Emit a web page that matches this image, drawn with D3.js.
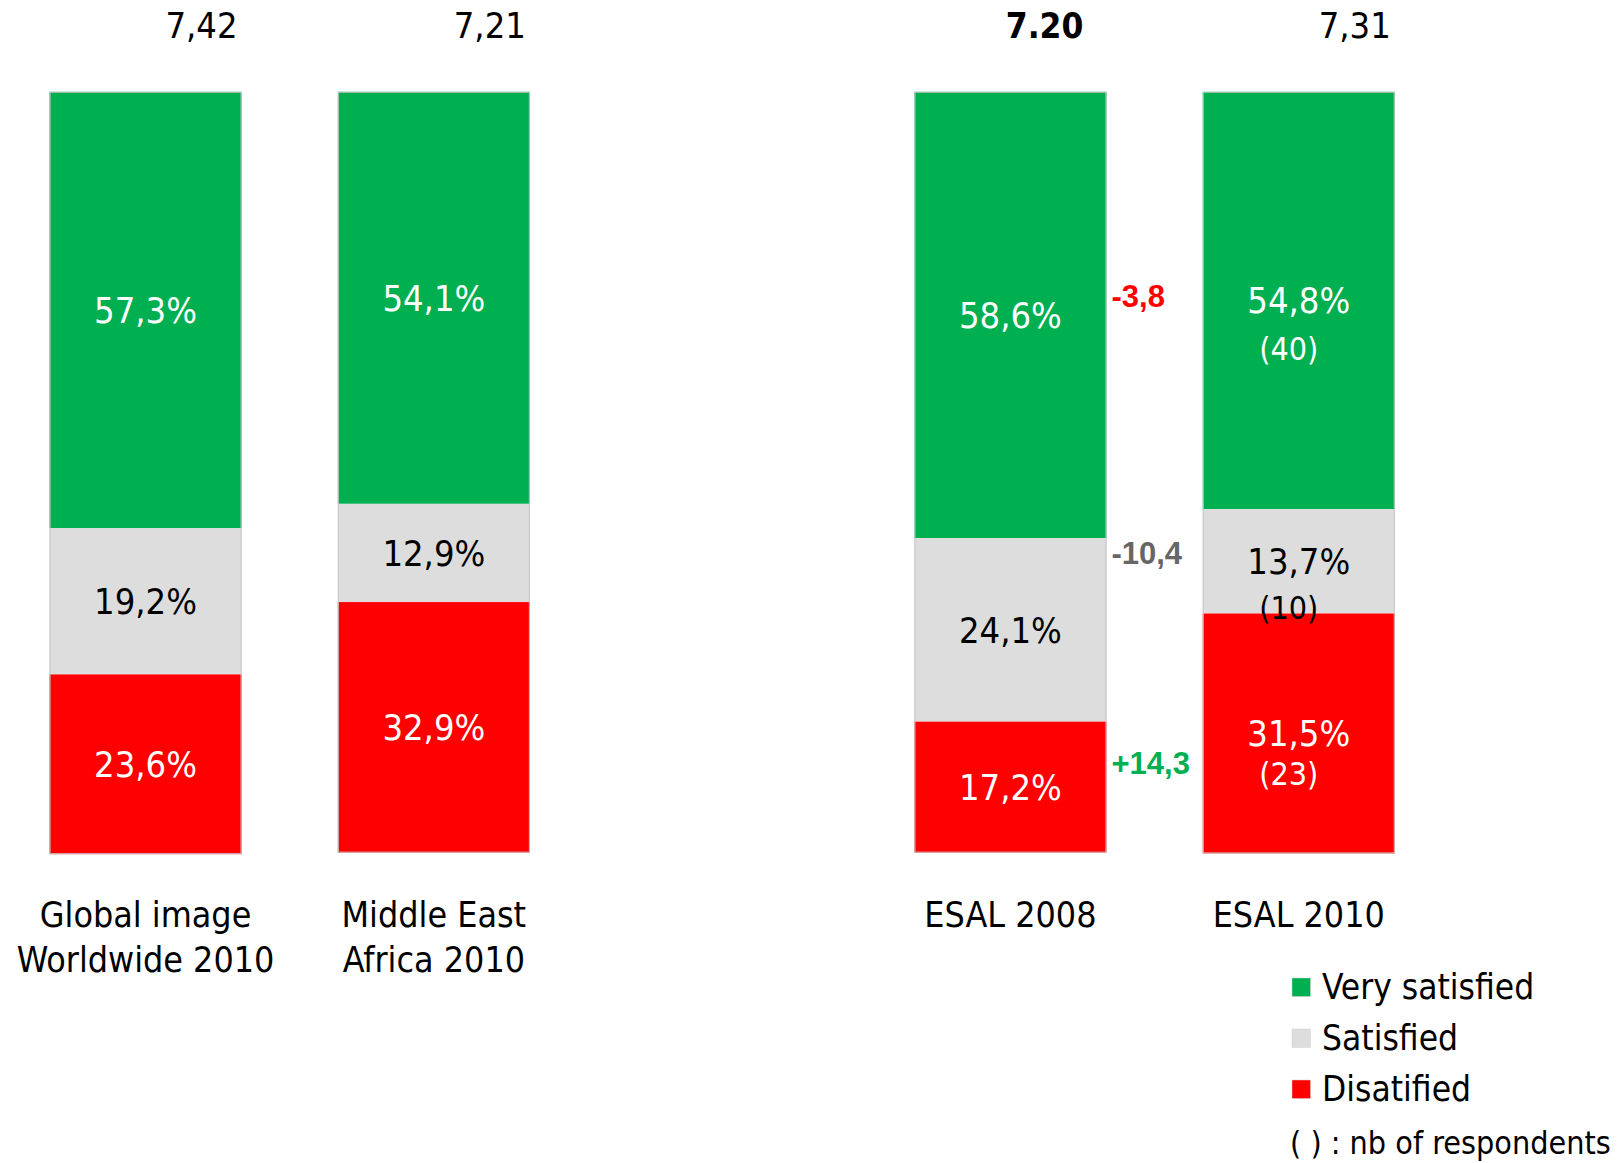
<!DOCTYPE html>
<html>
<head>
<meta charset="utf-8">
<script src="https://cdn.jsdelivr.net/npm/d3@7"></script>
<style>
  html, body { margin: 0; padding: 0; background: #fff; }
  svg { display: block; }
  .cond { font-family: "DejaVu Sans Condensed", "DejaVu Sans", sans-serif; font-stretch: condensed; }
  .arial { font-family: "Liberation Sans", Arial, sans-serif; font-weight: bold; }
</style>
</head>
<body>
<svg id="chart" width="1618" height="1163"></svg>
<script>
// ---------------- data ----------------
const categories = ["Global image|Worldwide 2010", "Middle East|Africa 2010", "ESAL 2008", "ESAL 2010"];
const verySatisfied = [57.3, 54.1, 58.6, 54.8];
const satisfied     = [19.2, 12.9, 24.1, 13.7];
const dissatisfied  = [23.6, 32.9, 17.2, 31.5];
const scores        = ["7,42", "7,21", "7.20", "7,31"];
const scoreBold     = [false, false, true, false];
const respondents2010 = [40, 10, 23];          // ESAL 2010: very satisfied, satisfied, dissatisfied
const deltas        = ["-3,8", "-10,4", "+14,3"]; // ESAL 2010 vs 2008
const seriesNames   = ["Very satisfied", "Satisfied", "Disatified"];
const legendNote    = "( ) : nb of respondents";

// ---------------- layout ----------------
const colors = ["#00AF50", "#DDDDDD", "#FF0000"];
const textColors = ["#ffffff", "#000000", "#ffffff"];
const deltaColors = ["#FF0000", "#666666", "#00B050"];
const keys = ["very", "sat", "dis"];

const svg = d3.select("#chart");
const slotDomain = [categories[0], categories[1], "__gap__", categories[2], categories[3]];
const x = d3.scaleBand().domain(slotDomain).range([1.4, 1442.9]).paddingInner(0.334).paddingOuter(0.167);
const y = d3.scaleLinear().domain([0, 100]).range([91.8, 853.4]);

const rows = categories.map((c, i) => ({ cat: c, very: verySatisfied[i], sat: satisfied[i], dis: dissatisfied[i], i }));
const stacked = d3.stack().keys(keys)(rows);

const pctFmt = v => d3.format(".1f")(v).replace(".", ",") + "%";

// segments
stacked.forEach((layer, k) => {
  svg.append("g").selectAll("rect").data(layer).join("rect")
    .attr("x", d => x(d.data.cat))
    .attr("y", d => y(d[0]))
    .attr("width", x.bandwidth())
    .attr("height", d => y(d[1]) - y(d[0]))
    .attr("fill", colors[k]);
});
// bar outlines
svg.append("g").selectAll("rect").data(rows).join("rect")
  .attr("x", d => x(d.cat) + 0.5)
  .attr("y", y(0) + 0.5)
  .attr("width", x.bandwidth() - 1)
  .attr("height", d => y(d.very + d.sat + d.dis) - y(0) - 1)
  .attr("fill", "none").attr("stroke", "#c4c4c4").attr("stroke-width", 1);

// segment labels
const fs = 36;
stacked.forEach((layer, k) => {
  svg.append("g").selectAll("text").data(layer).join("text")
    .attr("class", "cond")
    .attr("x", d => x(d.data.cat) + x.bandwidth() / 2)
    .attr("y", d => (y(d[0]) + y(d[1])) / 2 + 0.36 * fs)
    .attr("text-anchor", "middle")
    .attr("font-size", fs)
    .attr("fill", textColors[k])
    .text(d => pctFmt(d.data[keys[k]]));
});

// respondent counts (ESAL 2010)
const last = categories[3];
svg.append("g").selectAll("text").data(respondents2010).join("text")
  .attr("class", "cond")
  .attr("x", x(last) + x.bandwidth() / 2 - 10)
  .attr("y", (d, k) => (y(stacked[k][3][0]) + y(stacked[k][3][1])) / 2 + 0.36 * fs + [47, 45, 39][k])
  .attr("text-anchor", "middle")
  .attr("font-size", 32)
  .attr("fill", (d, k) => textColors[k])
  .text(d => "(" + d + ")");

// scores on top
svg.append("g").selectAll("text").data(scores).join("text")
  .attr("class", "cond")
  .attr("x", (d, i) => x(categories[i]) + x.bandwidth() - (scoreBold[i] ? 23 : 4))
  .attr("y", 38)
  .attr("text-anchor", "end")
  .attr("font-size", (d, i) => scoreBold[i] ? 35 : 36)
  .attr("font-weight", (d, i) => scoreBold[i] ? "bold" : "normal")
  .attr("fill", "#000")
  .text(d => d);

// deltas between ESAL 2008 and 2010
const deltaLevels = [28.3, 62.0, 89.6];
svg.append("g").selectAll("text").data(deltas).join("text")
  .attr("class", "arial")
  .attr("x", x(categories[2]) + x.bandwidth() + 5)
  .attr("y", (d, k) => y(deltaLevels[k]))
  .attr("font-size", 31)
  .attr("fill", (d, k) => deltaColors[k])
  .text(d => d);

// category labels
const catG = svg.append("g").selectAll("text").data(categories).join("text")
  .attr("class", "cond")
  .attr("x", d => x(d) + x.bandwidth() / 2)
  .attr("y", 927)
  .attr("text-anchor", "middle")
  .attr("font-size", 35.5)
  .attr("fill", "#000");
catG.selectAll("tspan").data(d => d.split("|")).join("tspan")
  .attr("x", function() { return d3.select(this.parentNode).attr("x"); })
  .attr("dy", (d, i) => i === 0 ? 0 : 44.5)
  .text(d => d);

// legend
const lg = svg.append("g").attr("transform", "translate(1292,978)");
const items = lg.selectAll("g").data(seriesNames).join("g")
  .attr("transform", (d, i) => `translate(0,${i * 51})`);
items.append("rect").attr("width", 18.5).attr("height", 18.5)
  .attr("fill", (d, i) => colors[i]).attr("stroke", "#cfcfcf").attr("stroke-width", 0.5);
items.append("text").attr("class", "cond")
  .attr("x", 30).attr("y", 21)
  .attr("font-size", 35).attr("fill", "#000")
  .text(d => d);
lg.append("text").attr("class", "cond")
  .attr("x", -2).attr("y", 176)
  .attr("font-size", 32).attr("fill", "#000")
  .text(legendNote);
</script>
</body>
</html>
